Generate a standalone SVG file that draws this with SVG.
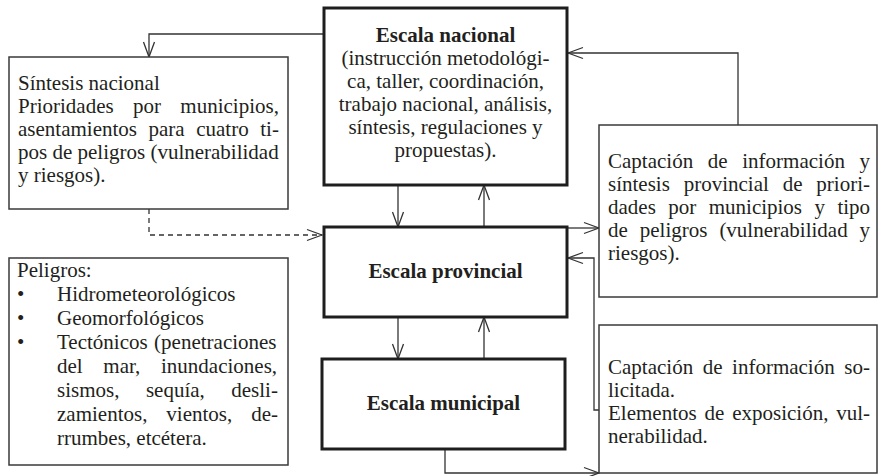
<svg xmlns="http://www.w3.org/2000/svg" width="878" height="476" viewBox="0 0 878 476">
<style>
text{font-family:"Liberation Serif","Times New Roman",serif;font-size:21px;fill:#231f20}
.b{font-weight:bold}
.c{text-anchor:middle}
.thick{fill:#fff;stroke:#1e1e1e;stroke-width:3}
.thin{fill:#fff;stroke:#3a3a3a;stroke-width:1.5}
.con{fill:none;stroke:#333;stroke-width:1.3}
.dash{stroke-dasharray:5,4}
</style>
<defs>
<marker id="ah" markerUnits="userSpaceOnUse" markerWidth="17" markerHeight="14" viewBox="0 0 17 14" refX="16" refY="7" orient="auto">
<path d="M1,1.5 L16,7 L1,12.5" fill="none" stroke="#333" stroke-width="1.3"/>
</marker>
</defs>
<g id="connectors">
<path class="con" d="M323,34 H149 V57" marker-end="url(#ah)"/>
<path class="con" d="M738,125 V53 H568" marker-end="url(#ah)"/>
<path class="con dash" d="M149,209 V235 H322" marker-end="url(#ah)"/>
<path class="con" d="M398,185 V227" marker-end="url(#ah)"/>
<path class="con" d="M484,227 V185" marker-end="url(#ah)"/>
<path class="con" d="M567,228 H599" marker-end="url(#ah)"/>
<path class="con" d="M599,410 H594 V258 H568" marker-end="url(#ah)"/>
<path class="con" d="M398,317 V359" marker-end="url(#ah)"/>
<path class="con" d="M484,359 V317" marker-end="url(#ah)"/>
<path class="con" d="M445,449 V473 H599" marker-end="url(#ah)"/>
</g>
<g id="escala-nacional">
<rect class="thick" x="324" y="8" width="243" height="177"/>
<text class="c b" x="445.5" y="42">Escala nacional</text>
<text class="c" x="445.5" y="65">(instrucción metodológi-</text>
<text class="c" x="445.5" y="88">ca, taller, coordinación,</text>
<text class="c" x="445.5" y="111">trabajo nacional, análisis,</text>
<text class="c" x="445.5" y="134">síntesis, regulaciones y</text>
<text class="c" x="445.5" y="157">propuestas).</text>
</g>
<g id="sintesis-nacional">
<rect class="thin" x="9" y="57" width="279" height="152"/>
<text x="18" y="90">Síntesis nacional</text>
<text x="18" y="113" word-spacing="14.1">Prioridades por municipios,</text>
<text x="18" y="136" word-spacing="6.3">asentamientos para cuatro ti-</text>
<text x="18" y="159">pos de peligros (vulnerabilidad</text>
<text x="18" y="182">y riesgos).</text>
</g>
<g id="escala-provincial">
<rect class="thick" x="324" y="227" width="243" height="90"/>
<text class="c b" x="445.5" y="278">Escala provincial</text>
</g>
<g id="peligros">
<rect class="thin" x="9" y="258" width="279" height="207"/>
<text x="17" y="277">Peligros:</text>
<text x="17" y="301">•</text><text x="57" y="301">Hidrometeorológicos</text>
<text x="17" y="325">•</text><text x="57" y="325">Geomorfológicos</text>
<text x="17" y="349">•</text><text x="57" y="349" word-spacing="1.2">Tectónicos (penetraciones</text>
<text x="57" y="373" word-spacing="15.4">del mar, inundaciones,</text>
<text x="57" y="397" word-spacing="21.2">sismos, sequía, desli-</text>
<text x="57" y="421" word-spacing="13.7">zamientos, vientos, de-</text>
<text x="57" y="445">rrumbes, etcétera.</text>
</g>
<g id="escala-municipal">
<rect class="thick" x="322" y="359" width="243" height="90"/>
<text class="c b" x="443.5" y="410">Escala municipal</text>
</g>
<g id="captacion-provincial">
<rect class="thin" x="599" y="125" width="278" height="172"/>
<text x="608" y="168" word-spacing="9.4">Captación de información y</text>
<text x="608" y="191" word-spacing="8.6">síntesis provincial de priori-</text>
<text x="608" y="214" word-spacing="7.2">dades por municipios y tipo</text>
<text x="608" y="237" word-spacing="6.7">de peligros (vulnerabilidad y</text>
<text x="608" y="260">riesgos).</text>
</g>
<g id="captacion-municipal">
<rect class="thin" x="599" y="325" width="278" height="148"/>
<text x="608" y="374" word-spacing="4.3">Captación de información so-</text>
<text x="608" y="397">licitada.</text>
<text x="608" y="420" word-spacing="2.6">Elementos de exposición, vul-</text>
<text x="608" y="443">nerabilidad.</text>
</g>
</svg>
